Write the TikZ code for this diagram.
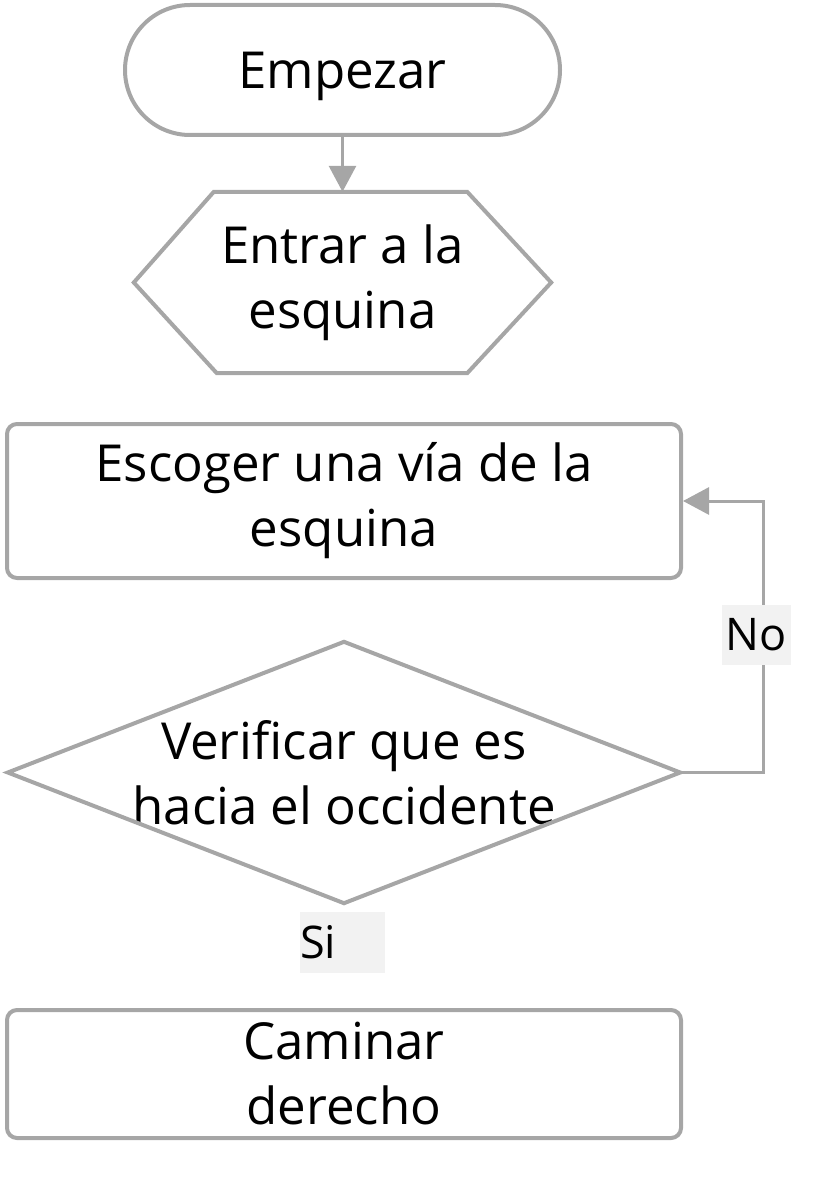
\documentclass[tikz,border=0pt]{standalone}
\usepackage{fontspec}
\setmainfont{Open Sans}
\usetikzlibrary{arrows.meta,shapes.misc}
\definecolor{linegray}{HTML}{A6A6A6}
\definecolor{labelgray}{HTML}{F2F2F2}
\tikzset{
  txt/.style={font=\fontsize{51}{65}\selectfont, align=center, inner sep=0pt},
  shapeline/.style={draw=linegray, line width=4pt},
  conn/.style={draw=linegray, line width=3pt, -{Triangle[length=26pt,width=27pt]}},
  lbl/.style={font=\fontsize{45}{55}\selectfont, fill=labelgray, inner sep=0pt}
}
\begin{document}
\begin{tikzpicture}[x=1pt,y=-1pt]
\useasboundingbox (0,0) rectangle (815,1177);
% Empezar
\node[txt, shapeline, rounded rectangle, minimum width=435pt, minimum height=130pt, text depth=0pt] (start) at (342.5,70) {Empezar};
% hexagon
\node[txt, minimum width=417pt, minimum height=181pt] (hex) at (342.5,282.5) {Entrar a la\\esquina};
\draw[shapeline, line join=miter] ([xshift=80pt]hex.north west) -- ([xshift=-84pt]hex.north east) -- (hex.east) -- ([xshift=-84pt]hex.south east) -- ([xshift=83pt]hex.south west) -- (hex.west) -- cycle;
% Escoger
\node[txt, shapeline, rectangle, rounded corners=10pt, minimum width=674pt, minimum height=154pt] (esc) at (344,501) {Escoger una vía de la\\esquina};
% diamond
\node[txt, minimum width=672pt, minimum height=261pt] (dia) at (344,772.5) {Verificar que es\\hacia el occidente};
\draw[shapeline, line join=miter] (dia.north) -- (dia.east) -- (dia.south) -- (dia.west) -- cycle;
% Caminar
\node[txt, shapeline, rectangle, rounded corners=10pt, minimum width=674pt, minimum height=128pt] (cam) at (344,1074) {Caminar\\derecho};
% connectors
\draw[conn] (start.south) -- (start.south |- hex.north);
\coordinate (cr) at (763,772.5);
\draw[conn, line join=miter] (dia.east) -- (cr) |- (esc.east);
% labels
\node[lbl, minimum width=69pt, minimum height=60pt] (no) at (756.5,635) {No};
\node[lbl, minimum width=85pt, minimum height=61pt, text width=85pt, align=left] (si) at (342.5,942.5) {Si};
\end{tikzpicture}
\end{document}
